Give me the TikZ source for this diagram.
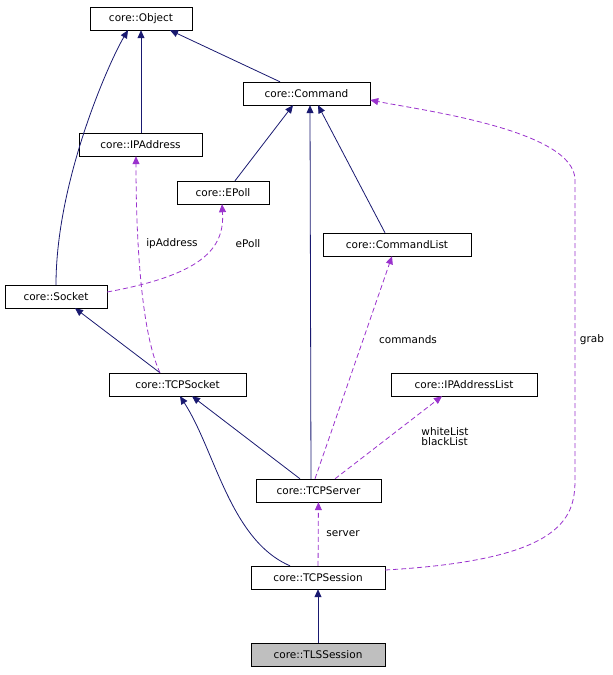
\documentclass[tikz,border=0pt]{standalone}
\usepackage{fontspec}
\setmainfont{DejaVu Sans}
\usetikzlibrary{arrows.meta}
\begin{document}
\begin{tikzpicture}[x=1pt,y=-1pt,
  box/.style={draw,fill=white,inner sep=0pt,minimum height=23pt,font=\fontsize{10.5}{12}\selectfont},
  inh/.style={draw={rgb,255:red,25;green,25;blue,112},thick,-{Triangle[length=8pt,width=7pt]}},
  use/.style={draw={rgb,255:red,154;green,50;blue,205},thick,dash pattern=on 5pt off 3pt,-{Triangle[length=8pt,width=7pt]}},
  lab/.style={font=\fontsize{10.5}{12}\selectfont,align=left}]
\useasboundingbox (0,0) rectangle (613,675);
\node[box,minimum width=102pt] (obj) at (141,18.5) {core::Object};
\node[box,minimum width=127pt] (cmd) at (306.5,93.5) {core::Command};
\node[box,minimum width=123pt] (ip) at (140.5,144.5) {core::IPAddress};
\node[box,minimum width=92pt] (ep) at (223,192.5) {core::EPoll};
\node[box,minimum width=148pt] (cl) at (397,244.5) {core::CommandList};
\node[box,minimum width=102pt] (sock) at (56,296.5) {core::Socket};
\node[box,minimum width=137pt] (tcps) at (177.5,384.5) {core::TCPSocket};
\node[box,minimum width=146pt] (ipl) at (464,384.5) {core::IPAddressList};
\node[box,minimum width=125pt] (srv) at (318.5,490.5) {core::TCPServer};
\node[box,minimum width=134pt] (ses) at (318,577.5) {core::TCPSession};
\node[box,minimum width=134pt,fill={rgb,255:red,191;green,191;blue,191}] (tls) at (318,655) {core::TLSSession};

\draw[inh] (cmd.north -| 280,0) -- (obj.south -| 170,0);
\draw[inh] (ip.north -| 141,0) -- (obj.south -| 141,0);
\draw[inh] (sock.north) .. controls (56,180) and (110,60) .. (obj.south -| 128,0);
\draw[inh] (ep.north -| 235,0) -- (cmd.south -| 293,0);
\draw[inh] (cl.north -| 385,0) -- (cmd.south -| 318,0);
\draw[inh] (srv.north -| 311,0) -- (cmd.south -| 310,0);
\draw[inh] (tcps.north -| 160,0) -- (sock.south -| 75,0);
\draw[inh] (srv.north -| 300,0) -- (tcps.south -| 192,0);
\draw[inh] (ses.north -| 290,0) .. controls (230,540) and (215,450) .. (tcps.south -| 180,0);
\draw[inh] (tls) -- (ses);

\draw[use] (tcps.north -| 160,0) .. controls (140,330) and (136,230) .. (ip.south -| 136,0);
\node[lab] (lip) at (172,244) {ipAddress};
\draw[use] (sock.east |- 0,292) .. controls (200,275) and (225,250) .. (ep.south -| 222,0);
\node[lab] (lep) at (248,244) {ePoll};
\draw[use] (srv.north -| 315,0) -- (cl.south -| 392,0);
\node[lab] (lcm) at (408,340) {commands};
\draw[use] (srv.north -| 335,0) -- (ipl.south -| 442,0);
\node[lab] (lwl) at (445,437) {whiteList\\[-2pt]blackList};
\draw[use] (ses) -- (srv);
\node[lab] (lsv) at (343,534) {server};
\draw[use] (ses.east |- 0,570) .. controls (560,560) and (575,520) .. (575,480) -- (575,180) .. controls (575,130) and (420,110) .. (cmd.east |- 0,100);
\node[lab] (lgr) at (592,340) {grab};
\end{tikzpicture}
\end{document}
